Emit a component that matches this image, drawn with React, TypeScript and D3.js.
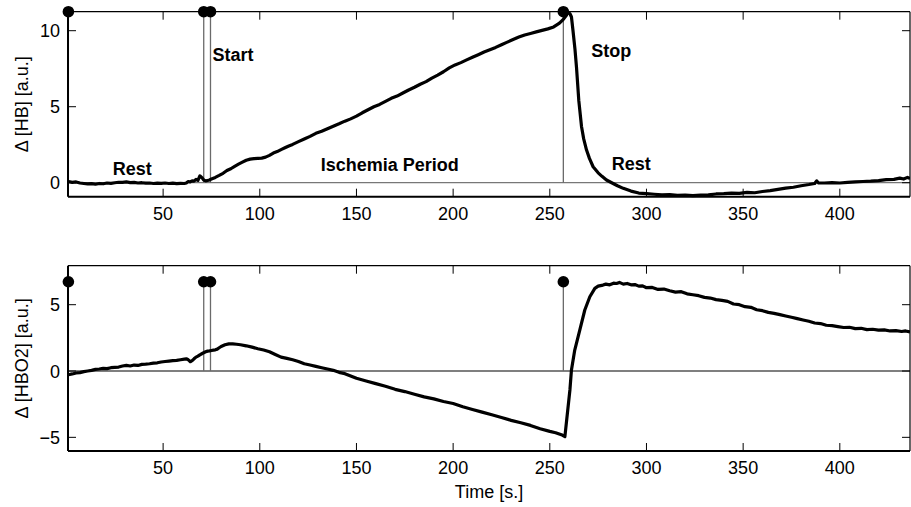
import React from "react";
import * as d3 from "d3";

// ---------- DATA ----------
const hbTime = [1,3,5,7,9,11,13,15,17,19,21,23,25,27,29,31,33,35,37,39,41,43,45,47,49,51,53,55,57,59,61,62,63,64,65,66,67,68,69,70,71,72,73,74,75,77,79,81,83,85,87,89,91,93,95,97,99,101,103,105,107,109,111,113,115,117,120,123,126,129,132,135,138,141,144,147,150,153,156,159,162,165,168,171,174,177,180,183,186,189,192,195,198,201,204,207,210,213,216,219,222,225,228,231,234,237,240,243,246,249,252,255,257,258.5,259.5,260.5,261.2,262,263,263.8,265,266.4,267.5,269,270.5,272.4,275,277,279.3,282,285,288,292,296,300,304,308,312,316,320,324,328,332,336,340,344,348,352,356,360,364,368,372,376,380,384,387,388,389,392,396,400,404,408,412,416,420,424,428,431,433,435,436.3];
const hbValue = [0.08,0.02,0.05,-0.02,-0.05,-0.08,-0.06,-0.1,-0.05,-0.07,-0.02,-0.04,0.0,0.03,0.02,0.05,0.01,0.02,-0.02,0.0,-0.03,-0.02,-0.05,-0.03,-0.04,-0.02,-0.05,-0.03,-0.06,-0.04,-0.05,-0.02,0.08,0.05,0.12,0.1,0.22,0.15,0.45,0.35,0.18,0.12,0.15,0.18,0.25,0.35,0.48,0.62,0.8,0.92,1.08,1.22,1.35,1.48,1.55,1.58,1.6,1.62,1.68,1.8,1.95,2.05,2.18,2.3,2.42,2.52,2.7,2.88,3.05,3.25,3.38,3.55,3.72,3.88,4.05,4.2,4.38,4.6,4.8,5.0,5.15,5.35,5.55,5.7,5.9,6.1,6.28,6.48,6.65,6.88,7.08,7.3,7.55,7.75,7.9,8.08,8.25,8.42,8.6,8.75,8.9,9.08,9.25,9.42,9.58,9.72,9.82,9.92,10.02,10.12,10.25,10.5,10.75,11.0,11.25,11.1,10.9,10.0,8.8,7.6,5.4,3.7,2.9,2.15,1.6,1.05,0.65,0.42,0.18,0.0,-0.2,-0.37,-0.55,-0.68,-0.72,-0.76,-0.8,-0.78,-0.83,-0.81,-0.85,-0.82,-0.8,-0.74,-0.72,-0.68,-0.7,-0.64,-0.66,-0.58,-0.52,-0.44,-0.36,-0.3,-0.2,-0.12,-0.05,0.12,-0.02,-0.02,0.0,-0.02,0.02,0.05,0.08,0.1,0.14,0.2,0.22,0.3,0.24,0.35,0.28];

const hbo2Time = [1,3,5,7,9,11,13,15,17,19,21,23,25,27,29,31,33,35,37,39,41,43,45,47,49,51,53,55,57,59,61,62,63,64,65,66,67,68,69,70,71,72,73,74,75,76,77,78,79,80,82,84,86,88,90,93,96,99,102,105,108,111,114,117,120,123,126,129,132,135,138,141,144,147,150,155,160,165,170,175,180,185,190,195,200,205,210,215,220,225,230,235,240,245,250,253,256,257.8,260.4,261.2,262.9,265.5,268.1,270.7,273.3,275,277.5,279,281,283,284.5,286,288,290,292,294,296,298,300,303,306,309,312,315,318,321,324,327,330,333,336,339,342,345,348,351,354,357,360,363,366,369,372,375,378,381,384,387,390,393,396,399,402,405,408,411,414,417,420,423,426,429,432,434,436.3];
const hbo2Value = [-0.28,-0.22,-0.15,-0.12,-0.05,0.0,0.05,0.12,0.15,0.2,0.18,0.25,0.28,0.3,0.38,0.42,0.38,0.45,0.42,0.5,0.52,0.55,0.6,0.62,0.68,0.72,0.75,0.78,0.8,0.85,0.9,0.92,0.85,0.7,0.78,0.92,1.05,1.12,1.22,1.3,1.38,1.45,1.5,1.52,1.55,1.58,1.6,1.65,1.75,1.85,1.98,2.05,2.05,2.02,1.98,1.9,1.8,1.68,1.58,1.45,1.25,1.05,0.95,0.85,0.72,0.55,0.45,0.35,0.25,0.15,0.05,-0.1,-0.2,-0.38,-0.55,-0.75,-0.95,-1.15,-1.38,-1.55,-1.75,-1.95,-2.1,-2.3,-2.45,-2.7,-2.9,-3.1,-3.3,-3.5,-3.72,-3.9,-4.1,-4.35,-4.55,-4.65,-4.8,-4.95,-1.43,0.08,1.58,3.09,4.6,5.6,6.23,6.4,6.48,6.55,6.5,6.62,6.6,6.68,6.55,6.6,6.5,6.52,6.4,6.42,6.28,6.3,6.15,6.18,6.05,5.95,5.98,5.82,5.75,5.68,5.55,5.5,5.38,5.32,5.25,5.05,5.0,4.85,4.8,4.62,4.55,4.42,4.35,4.25,4.15,4.05,3.95,3.85,3.75,3.62,3.58,3.45,3.42,3.35,3.28,3.3,3.2,3.22,3.12,3.15,3.08,3.1,3.02,3.05,2.98,3.02,2.95];

const stemTimes = [1, 71, 74.5, 257];
const hbStemHeight = 11.25;
const hbo2StemHeight = 6.73;

const xTicks = [50, 100, 150, 200, 250, 300, 350, 400];
const hbTicks = [0, 5, 10];
const hbo2Ticks = [-5, 0, 5];

const hbDomain = [-0.92, 11.25];
const hbo2Domain = [-6.03, 7.94];
const xDomain = [0.8, 436.3];

const hbLabels = [
  { text: "Rest", t: 24, v: 0.5 },
  { text: "Start", t: 75.5, v: 8 },
  { text: "Ischemia Period", t: 131.5, v: 0.8 },
  { text: "Stop", t: 271.5, v: 8.25 },
  { text: "Rest", t: 282, v: 0.85 },
];

const FONT = "'Liberation Sans', Arial, Helvetica, sans-serif";

type PanelProps = {
  top: number;
  bottom: number;
  times: number[];
  values: number[];
  domain: number[];
  ticks: number[];
  stemHeight: number;
  ylabel: string;
  baselineColor: string;
  labels?: { text: string; t: number; v: number }[];
};

const LEFT = 68;
const RIGHT = 910;

function Panel(p: PanelProps) {
  const x = d3.scaleLinear().domain(xDomain).range([LEFT, RIGHT]);
  const y = d3.scaleLinear().domain(p.domain).range([p.bottom, p.top]);
  const pts = p.times.map((t, i) => [t, p.values[i]] as [number, number]);
  const line = d3
    .line<[number, number]>()
    .x((d) => x(d[0]))
    .y((d) => y(d[1]));
  const tickLen = 8;
  const mid = (p.top + p.bottom) / 2;
  return (
    <g>
      <defs>
        <clipPath id={`clip${p.top}`}>
          <rect x={LEFT} y={p.top - 1} width={RIGHT - LEFT} height={p.bottom - p.top + 2} />
        </clipPath>
      </defs>
      {/* stem baseline */}
      <line x1={LEFT} x2={RIGHT} y1={y(0)} y2={y(0)} stroke={p.baselineColor} strokeWidth={1.2} />
      {/* stems */}
      {stemTimes.map((t, i) => (
        <line key={"s" + i} x1={x(t)} x2={x(t)} y1={y(0)} y2={y(p.stemHeight)} stroke="#6a6a6a" strokeWidth={1.3} />
      ))}
      {/* data */}
      <path d={line(pts) || ""} fill="none" stroke="#000" strokeWidth={3.2} strokeLinejoin="round" clipPath={`url(#clip${p.top})`} />
      {/* stem markers */}
      {stemTimes.map((t, i) => (
        <circle key={"c" + i} cx={x(t)} cy={y(p.stemHeight)} r={5.8} fill="#000" />
      ))}
      {/* frame */}
      <line x1={LEFT} x2={RIGHT} y1={p.top} y2={p.top} stroke="#000" strokeWidth={1.2} />
      <line x1={RIGHT} x2={RIGHT} y1={p.top} y2={p.bottom} stroke="#000" strokeWidth={1.2} />
      <line x1={LEFT} x2={RIGHT} y1={p.bottom} y2={p.bottom} stroke="#000" strokeWidth={2} />
      <line x1={LEFT} x2={LEFT} y1={p.top} y2={p.bottom} stroke="#000" strokeWidth={2} />
      {/* x ticks */}
      {xTicks.map((t) => (
        <g key={"xt" + t}>
          <line x1={x(t)} x2={x(t)} y1={p.bottom} y2={p.bottom - tickLen} stroke="#000" strokeWidth={1} />
          <line x1={x(t)} x2={x(t)} y1={p.top} y2={p.top + tickLen} stroke="#000" strokeWidth={1} />
          <text x={x(t)} y={p.bottom + 23} textAnchor="middle" fontSize={18} fontFamily={FONT}>
            {t}
          </text>
        </g>
      ))}
      {/* y ticks */}
      {p.ticks.map((v) => (
        <g key={"yt" + v}>
          <line x1={LEFT} x2={LEFT + tickLen} y1={y(v)} y2={y(v)} stroke="#000" strokeWidth={1} />
          <line x1={RIGHT} x2={RIGHT - tickLen} y1={y(v)} y2={y(v)} stroke="#000" strokeWidth={1} />
          <text x={60} y={y(v) + 6.5} textAnchor="end" fontSize={18} fontFamily={FONT}>
            {v < 0 ? "\u2212" + Math.abs(v) : v}
          </text>
        </g>
      ))}
      <text
        transform={`translate(28,${mid}) rotate(-90)`}
        textAnchor="middle"
        fontSize={18}
        fontFamily={FONT}
      >
        {p.ylabel}
      </text>
      {(p.labels || []).map((l, i) => (
        <text key={"l" + i} x={x(l.t)} y={y(l.v)} fontSize={18} fontWeight="bold" fontFamily={FONT}>
          {l.text}
        </text>
      ))}
    </g>
  );
}

export default function App() {
  return (
    <svg
      width={911}
      height={507}
      style={{ position: "absolute", left: 0, top: 0, background: "#fff" }}
    >
      <rect x={0} y={0} width={911} height={507} fill="#fff" />
      <Panel
        top={11.7}
        bottom={196.7}
        times={hbTime}
        values={hbValue}
        domain={hbDomain}
        ticks={hbTicks}
        stemHeight={hbStemHeight}
        ylabel={"\u0394 [HB] [a.u.]"}
        baselineColor="#777"
        labels={hbLabels}
      />
      <Panel
        top={265.7}
        bottom={451}
        times={hbo2Time}
        values={hbo2Value}
        domain={hbo2Domain}
        ticks={hbo2Ticks}
        stemHeight={hbo2StemHeight}
        ylabel={"\u0394 [HBO2] [a.u.]"}
        baselineColor="#000"
      />
      <text x={489} y={498} textAnchor="middle" fontSize={18} fontFamily={FONT}>
        Time [s.]
      </text>
    </svg>
  );
}
